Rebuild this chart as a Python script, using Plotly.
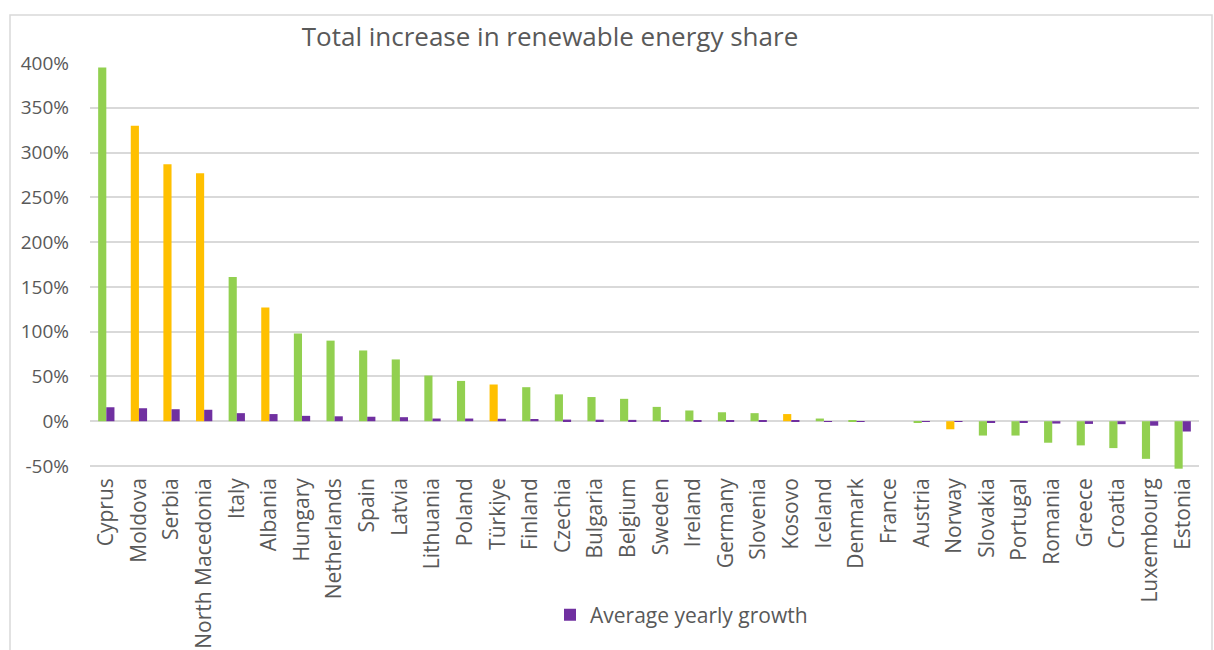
import plotly.graph_objects as go

# Countries ordered by total increase in renewable energy share
countries = ["Cyprus", "Moldova", "Serbia", "North Macedonia", "Italy", "Albania",
             "Hungary", "Netherlands", "Spain", "Latvia", "Lithuania", "Poland",
             "Türkiye", "Finland", "Czechia", "Bulgaria", "Belgium", "Sweden",
             "Ireland", "Germany", "Slovenia", "Kosovo", "Iceland", "Denmark",
             "France", "Austria", "Norway", "Slovakia", "Portugal", "Romania",
             "Greece", "Croatia", "Luxembourg", "Estonia"]

# Total increase (%) over the period
total_increase = [395, 330, 287, 277, 161, 127, 98, 90, 79, 69, 51, 45,
                  41, 38, 30, 27, 25, 16, 12, 10, 9, 8, 3, 1,
                  0, -1, -9, -16, -16, -24, -27, -30, -42, -53]

# Average yearly growth (%)
avg_growth = [15.6, 14.5, 13.4, 12.8, 9.0, 8.0, 6.0, 5.5, 5.0, 4.5, 3.0, 3.0,
              2.7, 2.5, 1.8, 1.7, 1.5, 1.0, 0.8, 0.6, 0.5, 0.5, 0.2, 0.05,
              0.0, -0.1, -0.6, -2.0, -2.0, -2.6, -3.0, -3.3, -5.0, -11.5]

# Y-axis tick values and their labels
y_ticks = [-50, 0, 50, 100, 150, 200, 250, 300, 350, 400]
y_tick_labels = [f"{v}%" for v in y_ticks]

# EU members in green, non-EU countries in amber
non_eu = {"Moldova", "Serbia", "North Macedonia", "Albania", "Türkiye", "Kosovo", "Norway"}
GREEN, AMBER, PURPLE = "#92d050", "#ffc000", "#7030a0"
bar_colors = [AMBER if c in non_eu else GREEN for c in countries]

FONT = "Open Sans"
TEXT = "#595959"

# Plot area in pixels
L, R, T, B = 90, 1199, 63, 470
PW, PH = R - L, B - T


def px_x(x):
    return (x - L) / PW


def px_y(y):
    return (B - y) / PH


fig = go.Figure()
fig.add_trace(go.Bar(
    x=countries, y=total_increase, name="Total increase",
    marker=dict(color=bar_colors, line=dict(width=0)),
    showlegend=False,
))
fig.add_trace(go.Bar(
    x=countries, y=avg_growth, name="Average yearly growth",
    marker=dict(color=PURPLE, line=dict(width=0)),
))

fig.update_layout(
    width=1214, height=650,
    paper_bgcolor="white", plot_bgcolor="white",
    margin=dict(l=L, r=1214 - R, t=T, b=650 - B, autoexpand=False),
    barmode="group", bargap=0.5, bargroupgap=0,
    font=dict(family=FONT, color=TEXT, size=17),
    title=dict(text="Total increase in renewable energy share",
               x=px_x(550), xanchor="center", xref="paper",
               y=1 - 37 / 650, yanchor="middle",
               font=dict(family=FONT, size=26, color=TEXT)),
    legend=dict(orientation="h", x=px_x(550), xanchor="left",
                y=px_y(615), yanchor="middle",
                font=dict(family=FONT, size=21, color=TEXT),
                itemwidth=30, bgcolor="rgba(0,0,0,0)"),
    xaxis=dict(tickangle=-90, showgrid=False, showline=False, ticks="",
               ticklabelstandoff=3,
               tickfont=dict(family=FONT, size=21, color=TEXT)),
    yaxis=dict(range=[-50 - 4 * 450 / 403, 400],
               tickmode="array", tickvals=y_ticks, ticktext=y_tick_labels,
               ticklabelstandoff=20,
               showgrid=True, gridcolor="#d9d9d9", gridwidth=1.5,
               zeroline=True, zerolinecolor="#d9d9d9", zerolinewidth=1.5,
               tickfont=dict(family=FONT, size=19, color=TEXT)),
    shapes=[dict(type="rect", xref="paper", yref="paper",
                 x0=px_x(10), x1=px_x(1212),
                 y0=px_y(700), y1=px_y(15),
                 line=dict(color="#d9d9d9", width=1.5), layer="below")],
)

fig.write_html("out.html")
